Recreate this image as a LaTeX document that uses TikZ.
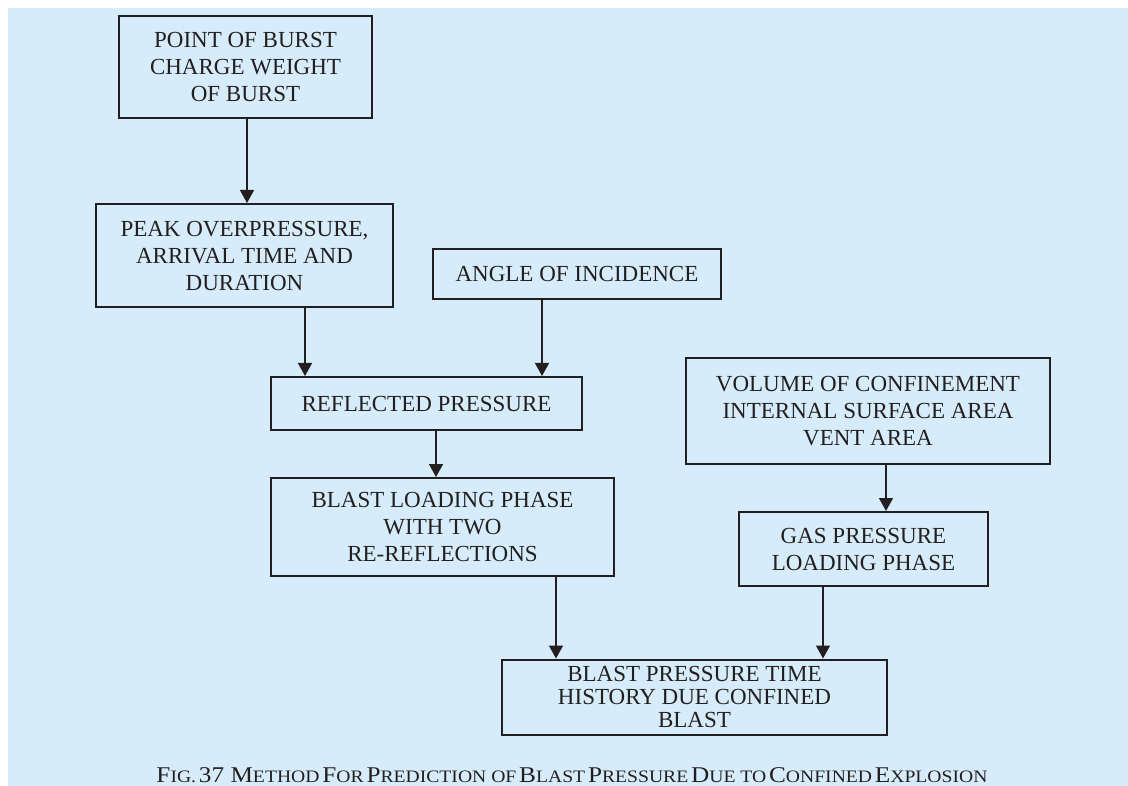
\documentclass[tikz,border=0pt]{standalone}
\usepackage{fontspec}
\usepackage{graphicx}
\setmainfont{Liberation Serif}
\usetikzlibrary{arrows.meta}
\definecolor{bg}{RGB}{214,236,250}
\definecolor{ink}{RGB}{35,31,32}
\newcommand{\capbig}[1]{{\fontsize{22.5}{22.5}\selectfont #1}}
\newcommand{\capsml}[1]{{\fontsize{17.5}{17.5}\selectfont #1}}
\begin{document}
\begin{tikzpicture}[x=1pt,y=-1pt,
  box/.style={draw=ink, line width=2pt, inner sep=0pt, align=center, text=ink,
    font=\fontsize{23}{27}\selectfont},
  arr/.style={draw=ink, line width=1.5pt, -{Triangle[width=14pt,length=13pt]}}]
\useasboundingbox (0,0) rectangle (1128,786);
\fill[bg] (8,8) rectangle (1128,786);

\node[box, minimum width=253pt, minimum height=102pt] (burst) at (245.5,67)
  {POINT OF BURST\\CHARGE WEIGHT\\OF BURST};
\node[box, minimum width=297pt, minimum height=103pt] (peak) at (244.5,255.5)
  {PEAK OVERPRESSURE,\\ARRIVAL TIME AND\\DURATION};
\node[box, minimum width=288pt, minimum height=50pt] (angle) at (577,274)
  {ANGLE OF INCIDENCE};
\node[box, minimum width=311pt, minimum height=53pt] (refl) at (426.5,403.5)
  {REFLECTED PRESSURE};
\node[box, minimum width=343pt, minimum height=98pt] (bload) at (442.5,527)
  {BLAST LOADING PHASE\\WITH TWO\\RE-REFLECTIONS};
\node[box, minimum width=364pt, minimum height=106pt] (vol) at (868,411)
  {VOLUME OF CONFINEMENT\\INTERNAL SURFACE AREA\\VENT AREA};
\node[box, minimum width=249pt, minimum height=74pt] (gas) at (863.5,549)
  {GAS PRESSURE\\LOADING PHASE};
\node[box, minimum width=385pt, minimum height=75pt,
  font=\fontsize{23}{23}\selectfont] (hist) at (694.5,697)
  {BLAST PRESSURE TIME\\HISTORY DUE CONFINED\\BLAST};

\coordinate (xa) at (247,0);
\coordinate (xb) at (305,0);
\coordinate (xc) at (542,0);
\coordinate (xd) at (436,0);
\coordinate (xe) at (556,0);
\coordinate (xf) at (886,0);
\coordinate (xg) at (823,0);

\draw[arr] (burst.south -| xa) -- (peak.north -| xa);
\draw[arr] (peak.south -| xb) -- (refl.north -| xb);
\draw[arr] (angle.south -| xc) -- (refl.north -| xc);
\draw[arr] (refl.south -| xd) -- (bload.north -| xd);
\draw[arr] (bload.south -| xe) -- (hist.north -| xe);
\draw[arr] (vol.south -| xf) -- (gas.north -| xf);
\draw[arr] (gas.south -| xg) -- (hist.north -| xg);

\node[text=ink, inner sep=0pt] (cap) at (572,775)
  {\resizebox{831pt}{\height}{\capbig{F}\capsml{IG.} \capbig{37 M}\capsml{ETHOD} \capbig{F}\capsml{OR} \capbig{P}\capsml{REDICTION OF} \capbig{B}\capsml{LAST} \capbig{P}\capsml{RESSURE} \capbig{D}\capsml{UE TO} \capbig{C}\capsml{ONFINED} \capbig{E}\capsml{XPLOSION}}};
\end{tikzpicture}
\end{document}
